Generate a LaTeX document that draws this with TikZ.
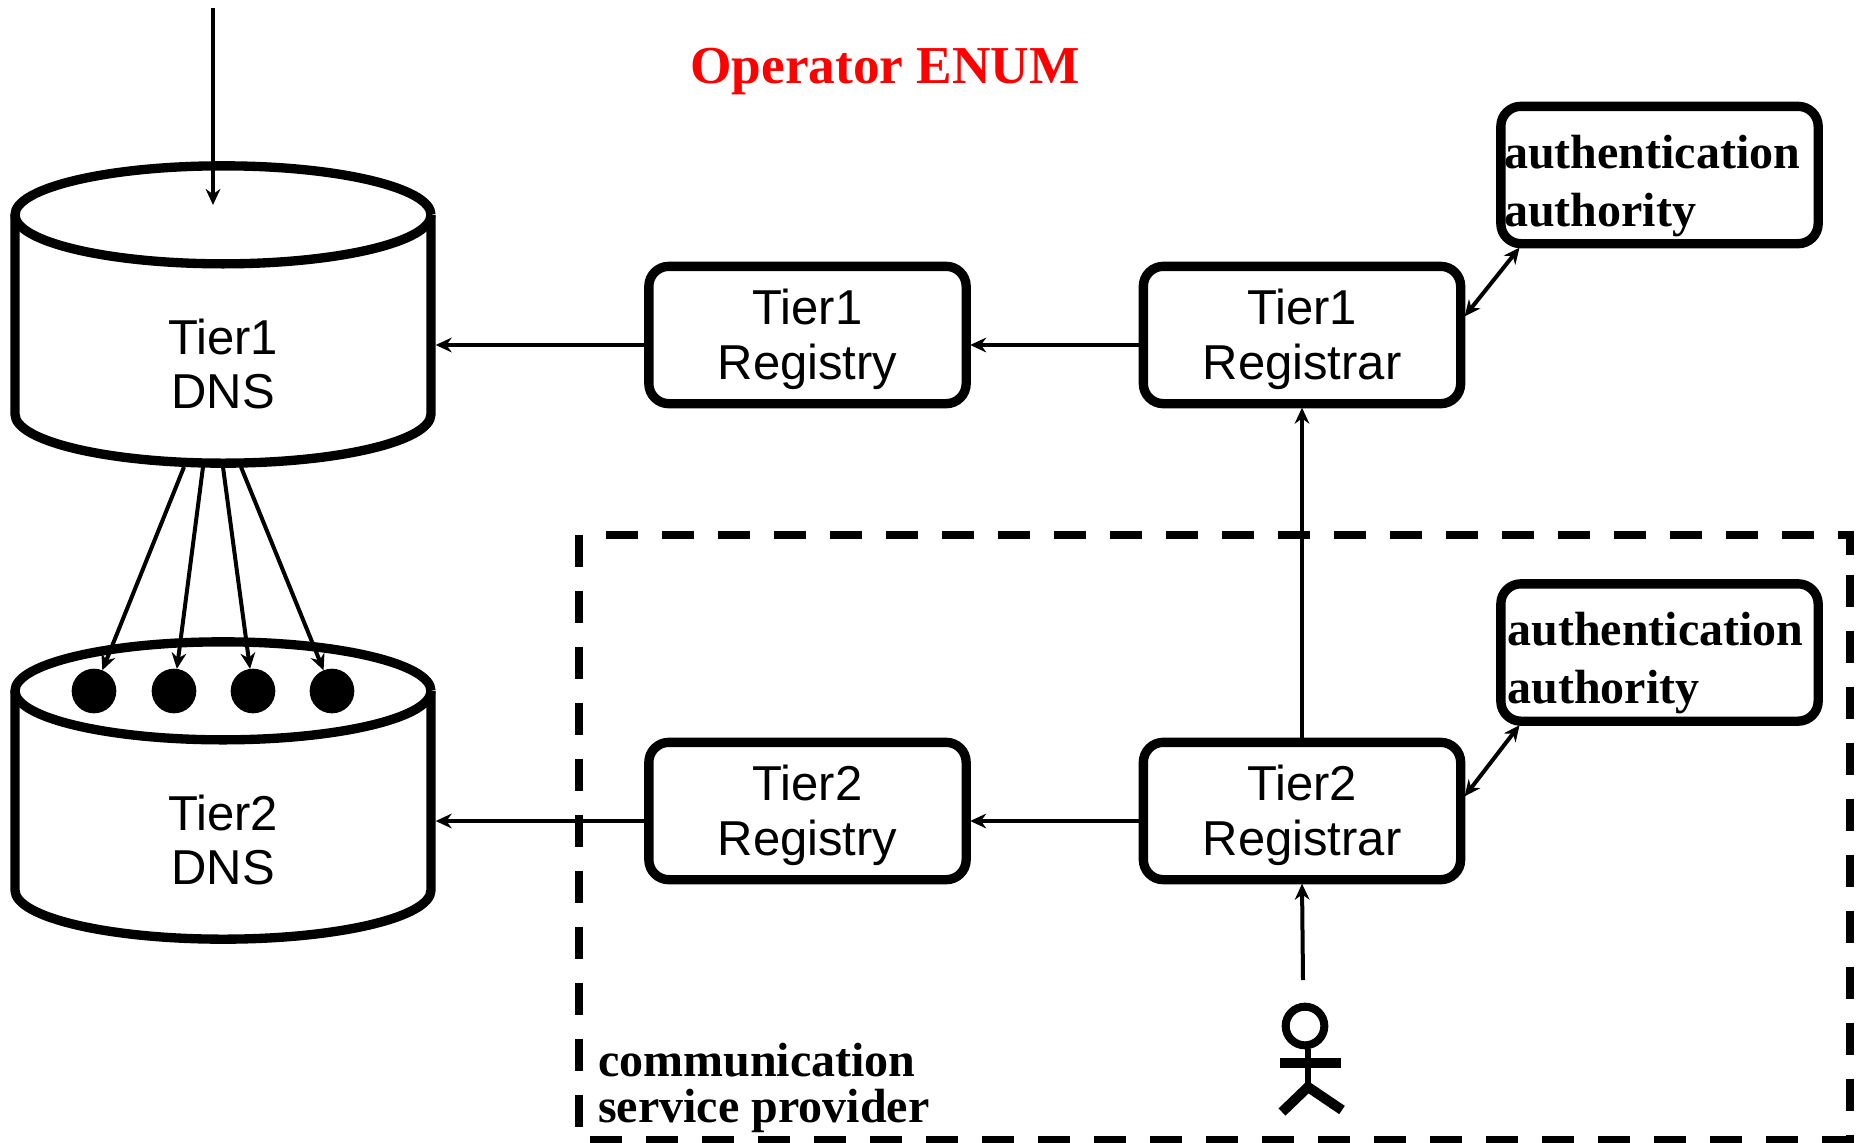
\documentclass[tikz,border=0pt]{standalone}
\usepackage{fontspec}
\setmainfont{Liberation Serif}
\newfontfamily\arialfont{Liberation Sans}
\usetikzlibrary{arrows.meta}
\newcommand{\boxstrut}{\rule{0pt}{33.5pt}}
\newcommand{\authstrut}{\rule{0pt}{41pt}}
\tikzset{
  x=0.75pt,y=-0.75pt,
  box/.style={draw,line width=7pt,rounded corners=15pt,minimum width=238pt,minimum height=103pt,inner sep=0pt,outer sep=3pt,align=center,font=\arialfont\fontsize{36.75}{41}\selectfont},
  auth/.style={draw,line width=7pt,rounded corners=15pt,text width=238pt,minimum height=103pt,inner sep=0pt,outer sep=3pt,align=left,font=\bfseries\fontsize{36}{43.5}\selectfont},
  cylframe/.style={minimum width=312pt,minimum height=223pt,inner sep=0pt,outer sep=3.5pt},
  cylwall/.style={line width=7pt,line join=round},
  cyllabel/.style={align=center,font=\arialfont\fontsize{36.75}{41}\selectfont},
  conn/.style={line width=3pt,-{Stealth[length=12pt,width=11pt]}},
  both/.style={line width=3pt,{Stealth[length=12pt,width=11pt]}-{Stealth[length=12pt,width=11pt]}},
  dot/.style={circle,fill=black,minimum size=33.5pt,inner sep=0pt,outer sep=0pt},
  frameline/.style={line width=6pt,dash pattern=on 24pt off 18pt},
  bold/.style={font=\bfseries\fontsize{36}{34.5}\selectfont,align=left},
  headring/.style={circle,draw,line width=6pt,minimum size=29pt,inner sep=0pt},
}
\begin{document}
\begin{tikzpicture}
\useasboundingbox (0,0) rectangle (1858,1142);
% cylinders
\node[cylframe] (dnsA) at (223,314.5) {};
\node[cylframe] (dnsB) at (223,790.5) {};
\foreach \c in {dnsA,dnsB}{
  \draw[cylwall] ([xshift=3.5pt,yshift=-40.25pt]\c.north west) -- ([xshift=3.5pt,yshift=40.25pt]\c.south west)
     arc[start angle=180,end angle=360,x radius=156pt,y radius=36.75pt]
     -- ([xshift=-3.5pt,yshift=-40.25pt]\c.north east);
  \draw[cylwall] ([yshift=-40.25pt,xshift=-3.5pt]\c.north east) arc[start angle=0,end angle=360,x radius=156pt,y radius=36.75pt];
}
\node[cyllabel] (labA) at (223,364) {Tier1\\DNS};
\node[cyllabel] (labB) at (223,840) {Tier2\\DNS};
% frame
\coordinate (fTL) at (579,535);
\coordinate (fTLe) at (602,535);
\coordinate (fTR) at (1850,535);
\coordinate (fRs) at (1850,555);
\coordinate (fR) at (1850,575);
\coordinate (fBR) at (1850,1142);
\coordinate (fBs) at (590,1140);
\coordinate (fBe) at (1854,1140);
\coordinate (fLe) at (579,1130);
\draw[frameline] (fRs) -- (fTR) -- (fTLe);
\draw[frameline] (fR) -- (fBR);
\draw[frameline] (fBs) -- (fBe);
\draw[frameline] (fTL) -- (fLe);
% boxes
\node[box] (regyA) at (807.5,335) {\boxstrut Tier1\\Registry};
\node[box] (regrA) at (1302,335) {\boxstrut Tier1\\Registrar};
\node[box] (regyB) at (807.5,811) {\boxstrut Tier2\\Registry};
\node[box] (regrB) at (1302,811) {\boxstrut Tier2\\Registrar};
\node[auth] (authA) at (1659.5,175) {\authstrut\hspace*{2.5pt}authentication\\\hspace*{2.5pt}authority};
\node[auth] (authB) at (1659.5,652.5) {\authstrut\hspace*{5pt}authentication\\\hspace*{5pt}authority};
% arrows
\coordinate (inS) at (213,8);
\coordinate (inE) at (213,205);
\draw[conn] (inS) -- (inE);
\coordinate (yA) at ([yshift=-7.5pt]regyA.west);
\coordinate (yB) at ([yshift=-7.5pt]regyB.west);
\draw[conn] ([yshift=-7.5pt]regrA.west) -- ([yshift=-7.5pt]regyA.east);
\draw[conn] (yA) -- (yA -| dnsA.east);
\draw[conn] ([yshift=-7.5pt]regrB.west) -- ([yshift=-7.5pt]regyB.east);
\draw[conn] (yB) -- (yB -| dnsB.east);
\draw[conn] (regrB.north) -- (regrA.south);
\coordinate (userTop) at (1303,980);
\draw[conn] (userTop) -- (regrB.south);
\draw[both] ([yshift=14pt]regrA.east) -- ([xshift=-105pt]authA.south);
\draw[both] ([yshift=11pt]regrB.east) -- ([xshift=-105pt]authB.south);
% dots
\node[dot] (d1) at (94,691) {};
\node[dot] (d2) at (174,691) {};
\node[dot] (d3) at (253,691) {};
\node[dot] (d4) at (332,691) {};
\coordinate (s1) at (184,467);
\coordinate (s2) at (203,467);
\coordinate (s3) at (223,467);
\coordinate (s4) at (241,467);
\foreach \i in {1,...,4}{\draw[conn] (s\i) -- (d\i);}
% person
\node[headring] (head) at (1305,1026) {};
\coordinate (shL) at (1280,1063);
\coordinate (shR) at (1341,1063);
\coordinate (hip) at (1308,1087);
\coordinate (legL) at (1282,1112);
\coordinate (legR) at (1342,1110);
\draw[line width=7.5pt] (shL) -- (shR);
\draw[line width=4pt] (head.south -| hip) -- (hip);
\draw[line width=7.5pt] (legL) -- (hip) -- (legR);
% texts
\node[anchor=base,text=red,font=\bfseries\fontsize{40}{44}\selectfont] (title) at (885,83) {Operator ENUM};
\node[bold,anchor=north west,inner sep=0pt] (csp) at (598,1043) {communication\\service provider};
\end{tikzpicture}
\end{document}
